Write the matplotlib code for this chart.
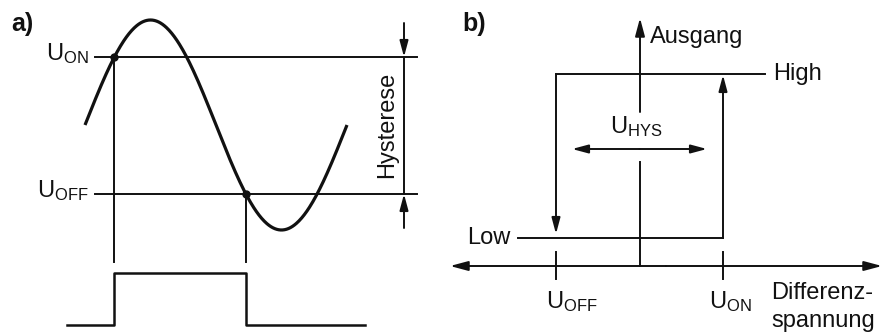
import numpy as np
import matplotlib
matplotlib.use("Agg")
import matplotlib.pyplot as plt

plt.rcParams['font.family'] = ['Liberation Sans', 'DejaVu Sans']
plt.rcParams['mathtext.default'] = 'regular'

# ---------------- panel a) values (pixel space) ----------------
sine_start, sine_period = 85, 262
sine_center, sine_amp = 125, 105
u_on_level, u_off_level = 57, 194
line_x_range = [95, 417]
pulse_x_range = [67, 365]
pulse_low, pulse_high = 325, 273
drop_bottom = 262
dim_x, dim_top, dim_bottom = 404, 23, 228

# ---------------- panel b) values ----------------
axis_y, axis_x = 266, 640
axis_x_range = [450, 882]
axis_top = 18
gap_top, gap_bottom = 112, 162
high_level, low_level = 74, 238
off_x, on_x = 556, 723
high_line = [556, 765]
low_line = [518, 723]
hys_y, hys_range = 149, [572, 707]
tick_span = [252, 279]

C = '#111111'
LW = 1.4

fig = plt.figure(figsize=(8.83, 3.34), dpi=100)
ax = fig.add_axes([0, 0, 1, 1])
ax.set_xlim(0, 883)
ax.set_ylim(334, 0)
ax.axis('off')

def arrow(x0, y0, x1, y1, lw=LW, hl=0.6, hw=0.16, ms=16):
    ax.annotate('', xy=(x1, y1), xytext=(x0, y0),
                arrowprops=dict(arrowstyle=f'-|>,head_length={hl},head_width={hw}',
                                color=C, lw=lw, shrinkA=0, shrinkB=0,
                                mutation_scale=ms))

FS = 17

# ---- panel a ----
ax.text(11, 24, 'a)', fontsize=18, fontweight='bold', ha='left', va='center', color=C)
xs = np.linspace(sine_start, sine_start + sine_period, 400)
ys = sine_center - sine_amp * np.sin(2 * np.pi * (xs - sine_start) / sine_period)
ax.plot(xs, ys, color=C, lw=2.3, solid_capstyle='butt')

x_on = sine_start + np.arcsin((sine_center - u_on_level) / sine_amp) / (2 * np.pi) * sine_period
x_off = sine_start + (np.pi + np.arcsin((u_off_level - sine_center) / sine_amp)) / (2 * np.pi) * sine_period

for lvl in (u_on_level, u_off_level):
    ax.plot(line_x_range, [lvl, lvl], color=C, lw=LW)
ax.plot([x_on, x_on], [u_on_level, drop_bottom], color=C, lw=LW)
ax.plot([x_off, x_off], [u_off_level, drop_bottom], color=C, lw=LW)
ax.plot([x_on, x_off], [u_on_level, u_off_level], 'o', color=C, ms=5)

ax.plot([pulse_x_range[0], x_on, x_on, x_off, x_off, pulse_x_range[1]],
        [pulse_low, pulse_low, pulse_high, pulse_high, pulse_low, pulse_low],
        color=C, lw=1.8)

ax.text(89, u_on_level - 3, r'$U_{ON}$', fontsize=FS, ha='right', va='center', color=C)
ax.text(89, u_off_level - 3, r'$U_{OFF}$', fontsize=FS, ha='right', va='center', color=C)

# dimension
ax.plot([dim_x, dim_x], [u_on_level, u_off_level], color=C, lw=LW)
arrow(dim_x, dim_top, dim_x, u_on_level)
arrow(dim_x, dim_bottom, dim_x, u_off_level)
ax.text(387, 125, 'Hysterese', fontsize=FS, rotation=90, ha='center', va='center', color=C)

# ---- panel b ----
ax.text(462, 24, 'b)', fontsize=18, fontweight='bold', ha='left', va='center', color=C)
mid = (axis_x_range[0] + axis_x_range[1]) / 2
arrow(mid, axis_y, axis_x_range[0], axis_y, ms=18)
arrow(mid, axis_y, axis_x_range[1], axis_y, ms=18)
ax.plot([axis_x, axis_x], [axis_y, gap_bottom], color=C, lw=LW)
arrow(axis_x, gap_top, axis_x, axis_top, ms=18)
ax.text(650, 37, 'Ausgang', fontsize=FS, ha='left', va='center', color=C)

ax.plot(high_line, [high_level, high_level], color=C, lw=LW)
ax.plot(low_line, [low_level, low_level], color=C, lw=LW)
arrow(off_x, high_level, off_x, low_level - 4)
arrow(on_x, low_level, on_x, high_level + 1)
ax.text(773, high_level, 'High', fontsize=FS, ha='left', va='center', color=C)
ax.text(510, low_level, 'Low', fontsize=FS, ha='right', va='center', color=C)

arrow((hys_range[0] + hys_range[1]) / 2, hys_y, hys_range[0], hys_y)
arrow((hys_range[0] + hys_range[1]) / 2, hys_y, hys_range[1], hys_y)
ax.text(636, 127, r'$U_{HYS}$', fontsize=FS, ha='center', va='center', color=C)

for tx in (off_x, on_x):
    ax.plot([tx, tx], tick_span, color=C, lw=LW)
ax.text(546, 302, r'$U_{OFF}$', fontsize=FS, ha='left', va='center', color=C)
ax.text(709, 302, r'$U_{ON}$', fontsize=FS, ha='left', va='center', color=C)
ax.text(771, 293, 'Differenz-', fontsize=FS, ha='left', va='center', color=C)
ax.text(771, 321, 'spannung', fontsize=FS, ha='left', va='center', color=C)

fig.savefig('out.png', dpi=100, facecolor='white')
